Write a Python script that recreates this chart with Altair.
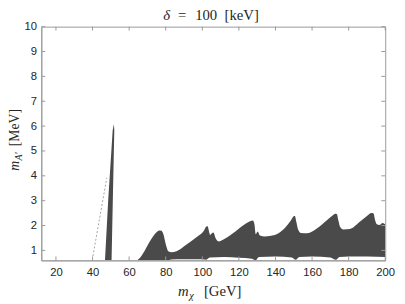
import altair as alt
import pandas as pd

# ---- data ----
# upper edge of the large dark band (m_chi in GeV, m_A' in MeV)
up_x = [64.4, 66.2, 72.4, 75.1, 76.5, 77.6, 78.7, 80.1, 81.4, 83.2, 85.9, 91.2, 96.6,
        101.1, 102.2, 102.9, 103.6, 104.3, 105.2, 106.1, 107.3, 109.1, 111.3, 118.1,
        123.4, 126.1, 127.6, 128.5, 129.2, 130.3, 131.5, 134.2, 139.6, 145.0,
        148.5, 149.8, 150.6, 151.4, 152.3, 153.9, 157.4, 162.8, 168.1, 171.2, 172.6,
        173.6, 174.4, 175.3, 177.1, 180.7, 186.1, 190.5, 192.4, 193.6, 194.5, 195.4,
        196.8, 198.6, 200.0]
up_y = [0.60, 0.73, 1.49, 1.74, 1.80, 1.79, 1.66, 1.23, 0.97, 0.93, 0.97, 1.23, 1.52,
        1.82, 1.96, 1.97, 1.78, 1.62, 1.69, 1.72, 1.49, 1.36, 1.43, 1.76,
        2.06, 2.17, 2.20, 2.05, 1.65, 1.76, 1.60, 1.56, 1.62, 1.89,
        2.21, 2.36, 2.38, 2.15, 1.85, 1.70, 1.69, 1.89, 2.21, 2.40, 2.47,
        2.45, 2.20, 1.95, 1.84, 1.86, 2.15, 2.41, 2.50, 2.48, 2.20, 2.05,
        2.02, 2.10, 2.05]
# lower edge of the large band (white notches underneath)
lo_x = [64.0, 81.0, 83.0, 90.0, 100.0, 102.0, 104.0, 112.0, 120.0, 127.0, 129.0,
        131.0, 140.0, 149.0, 151.0, 153.0, 160.0, 170.0, 173.0, 175.0, 180.0,
        190.0, 200.0]
lo_y = [0.60, 0.60, 0.63, 0.64, 0.64, 0.62, 0.72, 0.74, 0.70, 0.66, 0.60,
        0.74, 0.76, 0.72, 0.62, 0.74, 0.76, 0.72, 0.62, 0.74, 0.76,
        0.76, 0.74]
# narrow spike near 50 GeV (left / right edges as function of m_A')
sp_y = [0.60, 3.07, 5.82, 6.05]
sp_xl = [46.8, 48.6, 51.0, 51.6]
sp_xr = [50.4, 51.1, 51.9, 51.7]
# faint dashed streak
ds_x = [40.2, 47.8]
ds_y = [0.77, 3.92]
# tick values
x_ticks = [20, 40, 60, 80, 100, 120, 140, 160, 180, 200]
y_ticks = [1, 2, 3, 4, 5, 6, 7, 8, 9, 10]

X_DOM = [12, 200]
Y_DOM = [0.6, 10]
W, H = 351, 238.5
DARK = "#4a4a4a"
AX = "#9a9a9a"
TXT = "#262626"
SERIF = "Liberation Serif"

xaxis = alt.Axis(values=x_ticks, ticks=False, title=None, labelFont="Liberation Sans",
                 labelFontSize=11.5, labelColor=TXT, labelPadding=6,
                 domainColor=AX, grid=False, zindex=1, labelFlush=False)
yaxis = alt.Axis(values=y_ticks, ticks=False, title=None, labelFont="Liberation Sans",
                 labelFontSize=11.5, labelColor=TXT, labelPadding=5,
                 domainColor=AX, grid=False, zindex=1)
xs = alt.Scale(domain=X_DOM, nice=False, zero=False)
ys = alt.Scale(domain=Y_DOM, nice=False, zero=False)
XE = alt.X("x:Q", scale=xs, axis=xaxis)
YE = alt.Y("y:Q", scale=ys, axis=yaxis)

up_df = pd.DataFrame({"x": up_x, "y": up_y})
lo_df = pd.DataFrame({"x": lo_x, "y": lo_y})
sp_df = pd.DataFrame({"y": sp_y, "x": sp_xl, "x2": sp_xr})
ds_df = pd.DataFrame({"x": ds_x, "y": ds_y})
xt_df = pd.DataFrame({"x": x_ticks})
yt_df = pd.DataFrame({"y": y_ticks})

band = alt.Chart(up_df).mark_area(color=DARK, clip=True, interpolate="monotone").encode(
    x=XE, y=YE)
notch = alt.Chart(lo_df).mark_area(color="white", clip=True, interpolate="monotone").encode(
    x=XE, y=YE)
spike = alt.Chart(sp_df).mark_area(color=DARK, orient="horizontal", clip=True).encode(
    y=YE, x=XE, x2="x2:Q")
dash = alt.Chart(ds_df).mark_line(color="#8a8a8a", strokeDash=[2, 2], strokeWidth=0.8).encode(
    x=XE, y=YE)

tb = alt.Chart(xt_df).mark_rule(color=AX).encode(x=XE, y=alt.value(H - 4), y2=alt.value(H))
tt = alt.Chart(xt_df).mark_rule(color=AX).encode(x=XE, y=alt.value(0), y2=alt.value(4))
tl = alt.Chart(yt_df).mark_rule(color=AX).encode(y=YE, x=alt.value(0), x2=alt.value(4))
tr = alt.Chart(yt_df).mark_rule(color=AX).encode(y=YE, x=alt.value(W - 4), x2=alt.value(W))


def txt(s, x, y, size=14, italic=False, angle=0, align="left"):
    kw = dict(text=s, font=SERIF, fontSize=size, align=align, baseline="alphabetic",
              color=TXT)
    if italic:
        kw["fontStyle"] = "italic"
    if angle:
        kw["angle"] = angle
    return alt.Chart().mark_text(**kw).encode(x=alt.value(x), y=alt.value(y))


# title  delta = 100 [keV]
TY = -6.5
title_d = txt("δ", 124.5, TY, size=15, italic=True)
title_e = txt("=", 139.5, TY, size=15)
title_n = txt("100", 157, TY, size=15)
title_u = txt("[keV]", 187, TY, size=15)
# x axis title  m_chi [GeV]
xt_m = txt("m", 139.4, H + 36, size=15, italic=True)
xt_c = txt("χ", 151, H + 39, size=10.5, italic=True)
xt_u = txt("[GeV]", 166, H + 36, size=15)
# y axis title  m_A' [MeV]  (rotated)
yx = -22.5
y0 = 147
yt_m = txt("m", yx, y0, size=14, italic=True, angle=270)
yt_a = txt("A′", yx + 3, y0 - 10.5, size=10, italic=True, angle=270)
yt_u = txt("[MeV]", yx, y0 - 25, size=14, angle=270)

chart = alt.layer(
    band, notch, spike, dash, tb, tt, tl, tr,
    title_d, title_e, title_n, title_u, xt_m, xt_c, xt_u, yt_m, yt_a, yt_u,
).properties(
    width=W, height=H,
    autosize=alt.AutoSizeParams(type="none"),
    padding={"left": 34, "top": 16, "right": 12, "bottom": 42},
).configure_view(stroke=AX, strokeWidth=1)

chart.save("out.html", embed_options={"renderer": "svg", "actions": False})
